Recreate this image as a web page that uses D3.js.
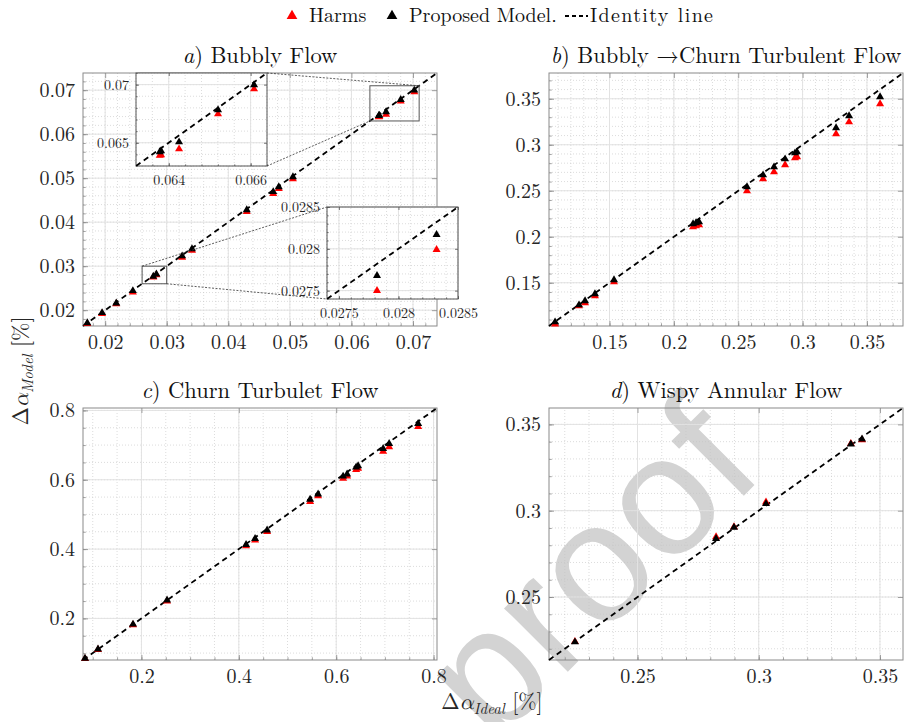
<!DOCTYPE html>
<html>
<head>
<meta charset="utf-8">
<script src="https://cdn.jsdelivr.net/npm/d3@7"></script>
<style>body{margin:0;background:#fff}</style>
</head>
<body>
<script>
// ---- data ----
// a) bubbly flow
const idealA = [0.0171, 0.0195, 0.0218, 0.0245, 0.02782, 0.02832, 0.0325, 0.0341, 0.0430, 0.0473, 0.0482, 0.0505, 0.06445, 0.06453, 0.06563, 0.06801, 0.07021];
const modelA = [0.0171, 0.0194, 0.0216, 0.0244, 0.02768, 0.02817, 0.0323, 0.0339, 0.0428, 0.0469, 0.0480, 0.0503, 0.06422, 0.06429, 0.06506, 0.06782, 0.06997];
const harmsA = [0.0169, 0.0192, 0.0214, 0.0241, 0.02750, 0.02799, 0.0320, 0.0336, 0.0424, 0.0465, 0.0476, 0.0498, 0.06390, 0.06395, 0.06446, 0.06747, 0.06962];
// b) bubbly -> churn turbulent
const idealB = [0.1077, 0.1263, 0.1310, 0.1387, 0.1535, 0.2149, 0.2172, 0.2196, 0.2568, 0.2693, 0.2778, 0.2864, 0.2941, 0.2957, 0.3260, 0.3361, 0.3602];
const modelB = [0.1073, 0.1258, 0.1302, 0.1378, 0.1530, 0.2139, 0.2150, 0.2160, 0.2541, 0.2671, 0.2758, 0.2845, 0.2910, 0.2921, 0.3182, 0.3313, 0.3519];
const harmsB = [0.1050, 0.1247, 0.1280, 0.1356, 0.1508, 0.2106, 0.2117, 0.2128, 0.2497, 0.2628, 0.2704, 0.2780, 0.2856, 0.2867, 0.3117, 0.3247, 0.3443];
// c) churn turbulent
const idealC = [0.0841, 0.1108, 0.1827, 0.2526, 0.4149, 0.4334, 0.4581, 0.5464, 0.5628, 0.6142, 0.6224, 0.6409, 0.6450, 0.6964, 0.7087, 0.7683];
const modelC = [0.0845, 0.1115, 0.1830, 0.2525, 0.4130, 0.4300, 0.4545, 0.5430, 0.5585, 0.6100, 0.6160, 0.6360, 0.6400, 0.6900, 0.7040, 0.7620];
const harmsC = [0.0835, 0.1100, 0.1810, 0.2500, 0.4090, 0.4255, 0.4500, 0.5370, 0.5530, 0.6040, 0.6100, 0.6290, 0.6330, 0.6820, 0.6950, 0.7530];
// d) wispy annular
const idealD = [0.2242, 0.2824, 0.2898, 0.3030, 0.3380, 0.3426];
const modelD = [0.2239, 0.2838, 0.2903, 0.3040, 0.3385, 0.3415];
const harmsD = [0.2241, 0.2848, 0.2906, 0.3050, 0.3388, 0.3410];

// axis limits / ticks
const domA = [0.0164, 0.0739], ticksA = [0.02, 0.03, 0.04, 0.05, 0.06, 0.07];
const domB = [0.103, 0.378],   ticksB = [0.15, 0.2, 0.25, 0.3, 0.35];
const domC = [0.08, 0.807],    ticksC = [0.2, 0.4, 0.6, 0.8];
const domD = [0.2135, 0.3595], ticksD = [0.25, 0.3, 0.35];
// zoom insets of panel a
const domZoom1 = [0.063, 0.071], ticksZoom1 = [0.065, 0.07];
const xLabelsZoom1 = ["0.064", "0.066"], yLabelsZoom1 = ["0.065", "0.07"];
const domZoom2 = [0.0274, 0.0285], ticksZoom2 = [0.0275, 0.028, 0.0285];
const boxZoom2 = [0.026, 0.030];

const serif = '"Latin Modern Roman", "Latin Modern Math", "Liberation Serif", serif';
const W = 905, H = 722;
const svg = d3.select("body").append("svg").attr("width", W).attr("height", H)
  .attr("font-family", serif);

// watermark underneath
svg.append("text")
  .attr("transform", "translate(598,578) rotate(-45)")
  .attr("text-anchor", "middle")
  .attr("dominant-baseline", "middle")
  .attr("font-family", '"Liberation Sans", Arial, sans-serif')
  .attr("font-size", 170)
  .attr("fill", "#d3d3d3")
  .text("proof");

const tri = d3.symbol(d3.symbolTriangle, 28);

function stepValues(dom, step) {
  const a = Math.ceil(dom[0] / step - 1e-9), b = Math.floor(dom[1] / step + 1e-9);
  return d3.range(a, b + 1).map(i => +(i * step).toFixed(6));
}

function drawAxes(g, x, y, o) {
  const x0 = x.range()[0], x1 = x.range()[1], y0 = y.range()[0], y1 = y.range()[1];
  const minor = stepValues(x.domain(), o.minor);

  if (o.fill) g.append("rect").attr("x", x0).attr("y", y1).attr("width", x1 - x0).attr("height", y0 - y1).attr("fill", "#fff");

  // minor grid
  g.selectAll(null).data(minor).join("line")
    .attr("x1", d => x(d)).attr("x2", d => x(d)).attr("y1", y0).attr("y2", y1)
    .attr("stroke", "#c4c4c4").attr("stroke-width", 0.6).attr("stroke-dasharray", "1,2");
  g.selectAll(null).data(minor).join("line")
    .attr("y1", d => y(d)).attr("y2", d => y(d)).attr("x1", x0).attr("x2", x1)
    .attr("stroke", "#c4c4c4").attr("stroke-width", 0.6).attr("stroke-dasharray", "1,2");
  // major grid
  g.selectAll(null).data(o.ticks).join("line")
    .attr("x1", d => x(d)).attr("x2", d => x(d)).attr("y1", y0).attr("y2", y1)
    .attr("stroke", "#e2e2e2").attr("stroke-width", 1);
  g.selectAll(null).data(o.ticks).join("line")
    .attr("y1", d => y(d)).attr("y2", d => y(d)).attr("x1", x0).attr("x2", x1)
    .attr("stroke", "#e2e2e2").attr("stroke-width", 1);

  const xf = o.xLabels ? (d, i) => o.xLabels[i] : d => d3.format("")(d);
  const yf = o.yLabels ? (d, i) => o.yLabels[i] : d => d3.format("")(d);

  g.append("g").attr("transform", `translate(0,${y0})`)
    .call(d3.axisBottom(x).tickValues(o.ticks).tickSize(-o.tick).tickPadding(o.padX).tickFormat(xf));
  g.append("g").attr("transform", `translate(${x0},0)`)
    .call(d3.axisLeft(y).tickValues(o.ticks).tickSize(-o.tick).tickPadding(o.padY).tickFormat(yf));
  g.append("g").attr("transform", `translate(0,${y1})`)
    .call(d3.axisTop(x).tickValues(o.ticks).tickSize(-o.tick).tickFormat(""));
  g.append("g").attr("transform", `translate(${x1},0)`)
    .call(d3.axisRight(y).tickValues(o.ticks).tickSize(-o.tick).tickFormat(""));
  // minor ticks
  g.append("g").attr("transform", `translate(0,${y0})`)
    .call(d3.axisBottom(x).tickValues(minor).tickSize(-o.tick * 0.55).tickFormat(""));
  g.append("g").attr("transform", `translate(${x0},0)`)
    .call(d3.axisLeft(y).tickValues(minor).tickSize(-o.tick * 0.55).tickFormat(""));

  g.selectAll(".domain").remove();
  g.selectAll("g").attr("font-family", serif).attr("font-size", o.fontSize);
  g.selectAll(".tick line").attr("stroke", o.frame).attr("stroke-width", 0.8);
  g.selectAll(".tick text").attr("fill", "#262626");

  g.append("rect").attr("x", x0).attr("y", y1).attr("width", x1 - x0).attr("height", y0 - y1)
    .attr("fill", "none").attr("stroke", o.frame).attr("stroke-width", 1);
}

function drawData(g, x, y, ideal, harms, model) {
  const dom = x.domain();
  g.append("line")
    .attr("x1", x(dom[0])).attr("y1", y(dom[0])).attr("x2", x(dom[1])).attr("y2", y(dom[1]))
    .attr("stroke", "#000").attr("stroke-width", 1.8).attr("stroke-dasharray", "5.5,4");
  g.selectAll(null).data(ideal).join("path")
    .attr("d", tri).attr("fill", "#ff0000")
    .attr("transform", (d, i) => `translate(${x(d)},${y(harms[i])})`);
  g.selectAll(null).data(ideal).join("path")
    .attr("d", tri).attr("fill", "#000")
    .attr("transform", (d, i) => `translate(${x(d)},${y(model[i])})`);
}

function panel(p) {
  const x = d3.scaleLinear().domain(p.dom).range([p.left, p.left + p.w]);
  const y = d3.scaleLinear().domain(p.dom).range([p.top + p.h, p.top]);
  const g = svg.append("g");
  drawAxes(g, x, y, { ticks: p.ticks, minor: p.minor, tick: 5, padX: 9, padY: 8, fontSize: 20, frame: "#8a8a8a" });
  drawData(g, x, y, p.ideal, p.harms, p.model);
  const t = svg.append("text").attr("x", p.left + p.w / 2).attr("y", p.top - 10)
    .attr("text-anchor", "middle").attr("font-size", 22.5).attr("fill", "#111");
  t.append("tspan").attr("font-style", "italic").text(p.letter);
  t.append("tspan").text(p.title);
  return { x, y, g };
}

const pa = panel({ left: 83, top: 73, w: 354, h: 253, dom: domA, ticks: ticksA, minor: 0.002,
  ideal: idealA, harms: harmsA, model: modelA, letter: "a", title: ") Bubbly Flow" });
panel({ left: 549, top: 73, w: 354, h: 253, dom: domB, ticks: ticksB, minor: 0.01,
  ideal: idealB, harms: harmsB, model: modelB, letter: "b", title: ") Bubbly \u2192Churn Turbulent Flow" });
panel({ left: 83, top: 408, w: 354, h: 252, dom: domC, ticks: ticksC, minor: 0.05,
  ideal: idealC, harms: harmsC, model: modelC, letter: "c", title: ") Churn Turbulet Flow" });
panel({ left: 549, top: 408, w: 354, h: 252, dom: domD, ticks: ticksD, minor: 0.01,
  ideal: idealD, harms: harmsD, model: modelD, letter: "d", title: ") Wispy Annular Flow" });

// ---- zoom boxes and insets on panel a ----
function zoomBox(dom) {
  return { x0: pa.x(dom[0]), x1: pa.x(dom[1]), y0: pa.y(dom[0]), y1: pa.y(dom[1]) };
}
const b1 = zoomBox(domZoom1), b2 = zoomBox(boxZoom2);
[b1, b2].forEach(b => {
  pa.g.append("rect").attr("x", b.x0).attr("y", b.y1).attr("width", b.x1 - b.x0).attr("height", b.y0 - b.y1)
    .attr("fill", "none").attr("stroke", "#555").attr("stroke-width", 1);
});

function inset(r, dom, ticks, minor, xl, yl) {
  const x = d3.scaleLinear().domain(dom).range([r.left, r.left + r.w]);
  const y = d3.scaleLinear().domain(dom).range([r.top + r.h, r.top]);
  const g = svg.append("g");
  drawAxes(g, x, y, { ticks, minor, tick: 3, padX: 9, padY: 7, fontSize: 14, frame: "#555", fill: true, xLabels: xl, yLabels: yl });
  g.append("clipPath").attr("id", "clip" + r.left).append("rect")
    .attr("x", r.left).attr("y", r.top).attr("width", r.w).attr("height", r.h);
  const dg = g.append("g").attr("clip-path", `url(#clip${r.left})`);
  drawData(dg, x, y, idealA, harmsA, modelA);
  return r;
}
const in1 = inset({ left: 136, top: 73, w: 131, h: 93 }, domZoom1, ticksZoom1, 0.001, xLabelsZoom1, yLabelsZoom1);
const in2 = inset({ left: 327, top: 207, w: 131, h: 92 }, domZoom2, ticksZoom2, 0.0001);

const connectors = [
  [in1.left + in1.w, in1.top, b1.x1, b1.y1],
  [in1.left + in1.w, in1.top + in1.h, b1.x0, b1.y0],
  [b2.x0, b2.y1, in2.left, in2.top],
  [b2.x1, b2.y0, in2.left, in2.top + in2.h]
];
svg.selectAll(null).data(connectors).join("line")
  .attr("x1", d => d[0]).attr("y1", d => d[1]).attr("x2", d => d[2]).attr("y2", d => d[3])
  .attr("stroke", "#333").attr("stroke-width", 0.8).attr("stroke-dasharray", "2,1.5");

// ---- legend ----
const leg = svg.append("g").attr("font-size", 20).attr("font-family", serif).attr("fill", "#111");
leg.append("path").attr("d", d3.symbol(d3.symbolTriangle, 50)).attr("fill", "#ff0000").attr("transform", "translate(292,16)");
leg.append("text").attr("x", 309).attr("y", 22).text("Harms");
leg.append("path").attr("d", d3.symbol(d3.symbolTriangle, 50)).attr("fill", "#000").attr("transform", "translate(392,16)");
leg.append("text").attr("x", 409).attr("y", 22).text("Proposed Model.");
leg.append("line").attr("x1", 565).attr("x2", 588).attr("y1", 16).attr("y2", 16)
  .attr("stroke", "#000").attr("stroke-width", 1.8).attr("stroke-dasharray", "4,3");
leg.append("text").attr("x", 590).attr("y", 22).attr("textLength", 123).attr("lengthAdjust", "spacing").text("Identity line");

// ---- axis labels ----
function axisLabel(sub, x, y, rot) {
  const t = svg.append("text").attr("text-anchor", "middle").attr("fill", "#262626")
    .attr("transform", `translate(${x},${y}) rotate(${rot})`).attr("font-size", 22);
  t.append("tspan").text("\u0394");
  t.append("tspan").attr("font-style", "italic").text("\u03b1");
  t.append("tspan").attr("font-style", "italic").attr("font-size", 15).attr("dy", 5).text(sub);
  t.append("tspan").attr("dy", -5).text(" [%]");
}
axisLabel("Model", 28, 371, -90);
axisLabel("Ideal", 492, 709, 0);
</script>
</body>
</html>
